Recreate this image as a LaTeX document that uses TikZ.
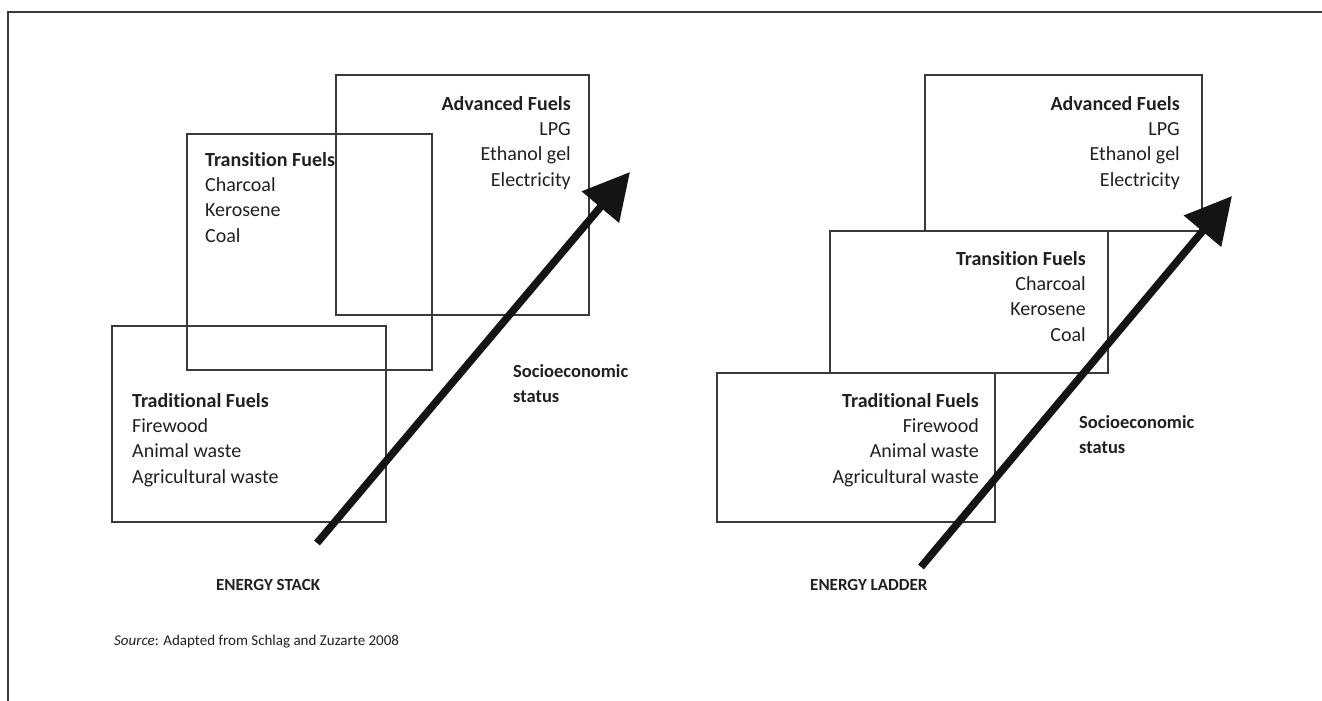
\documentclass[tikz,border=0pt]{standalone}
\usepackage{fontspec}
\setmainfont{Carlito}[Ligatures={NoCommon}]
\usetikzlibrary{arrows.meta}
\definecolor{ink}{HTML}{231F20}
\definecolor{rule}{HTML}{3A3A3A}

\begin{document}
\begin{tikzpicture}[x=1pt,y=-1pt,
  fuelbox/.style={draw=rule, line width=1.3pt, inner sep=0pt, rectangle},
  fueltext/.style={text=ink, inner sep=0pt, font=\fontsize{20}{25.3}\selectfont},
  flushright/.style={fueltext, align=right, anchor=north east},
  flushleft/.style={fueltext, align=left, anchor=north west},
  status/.style={flushleft, font=\fontsize{18.5}{25.5}\selectfont\bfseries},
  rising/.style={draw=black!92, line width=7.5pt,
    -{Triangle[length=46pt,width=47pt]}},
  caption/.style={text=ink, inner sep=0pt, anchor=base west,
    font=\fontsize{17}{20}\selectfont\bfseries}
]
\useasboundingbox (0,0) rectangle (1322,701);

% open frame: a rule along the top and down the left side
\draw[rule, line width=1.5pt] (8,701) -- (8,12) -- (1322,12);

% ---------------- energy stack ----------------
\node[fuelbox, minimum width=253pt, minimum height=240pt] (sAdv) at (462.5,195) {};
\node[fuelbox, minimum width=245pt, minimum height=236pt] (sTra) at (309.5,252) {};
\node[fuelbox, minimum width=274pt, minimum height=196pt] (sTrd) at (249,424) {};

\node[flushright] (sAdvT) at (571,96)
  {\textbf{Advanced Fuels}\\LPG\\Ethanol gel\\Electricity};
\node[flushleft] (sTraT) at (205,152)
  {\textbf{Transition Fuels}\\Charcoal\\Kerosene\\Coal};
\node[flushleft] (sTrdT) at (132,393)
  {\textbf{Traditional Fuels}\\Firewood\\Animal waste\\Agricultural waste};

\coordinate (sFoot) at (317,543);
\coordinate (sTip) at (630,172);
\draw[rising] (sFoot) -- (sTip);

\node[status] (sSes) at (513,364) {Socioeconomic\\status};
\node[caption] (sCap) at (216,590) {ENERGY STACK};

% ---------------- energy ladder ----------------
\node[fuelbox, minimum width=277pt, minimum height=156pt] (lAdv) at (1063.5,153) {};
\node[fuelbox, minimum width=278pt, minimum height=142pt] (lTra) at (969,302) {};
\node[fuelbox, minimum width=278pt, minimum height=149pt] (lTrd) at (856,447.5) {};

\node[flushright] (lAdvT) at (1180,96)
  {\textbf{Advanced Fuels}\\LPG\\Ethanol gel\\Electricity};
\node[flushright] (lTraT) at (1086,251)
  {\textbf{Transition Fuels}\\Charcoal\\Kerosene\\Coal};
\node[flushright] (lTrdT) at (979,393)
  {\textbf{Traditional Fuels}\\Firewood\\Animal waste\\Agricultural waste};

\coordinate (lFoot) at (921,567);
\coordinate (lTip) at (1232,196);
\draw[rising] (lFoot) -- (lTip);

\node[status] (lSes) at (1079,415) {Socioeconomic\\status};
\node[caption] (lCap) at (810,590) {ENERGY LADDER};

% source line
\node[text=ink, inner sep=0pt, anchor=base west, font=\fontsize{15}{17}\selectfont]
  (src) at (114,645) {\textit{Source}: Adapted from Schlag and Zuzarte 2008};
\end{tikzpicture}
\end{document}
